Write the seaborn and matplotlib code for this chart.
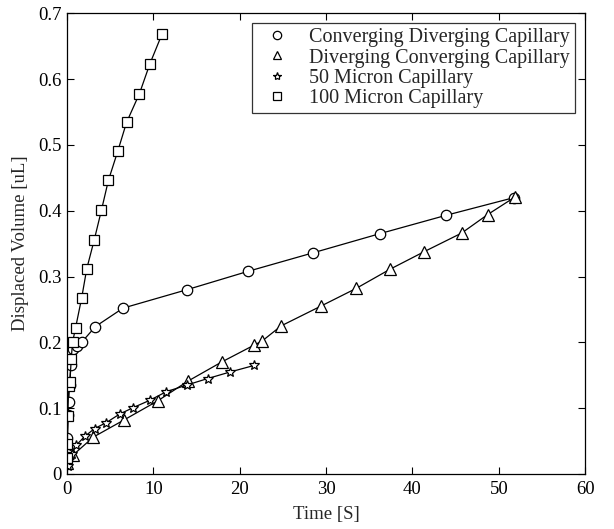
import matplotlib
matplotlib.use('Agg')
import matplotlib.pyplot as plt
from matplotlib.lines import Line2D
from matplotlib.ticker import FormatStrFormatter
import pandas as pd
import seaborn as sns

# Valores
series_names = ['Converging Diverging Capillary', 'Diverging Converging Capillary',
                '50 Micron Capillary', '100 Micron Capillary']

cd_time = [0.0, 0.05, 0.15, 0.2, 0.3, 0.45, 0.7, 1.2, 1.7, 3.3, 6.5, 13.9, 21.0, 28.5, 36.2, 43.9, 51.8]
cd_vol = [0.03, 0.055, 0.09, 0.11, 0.135, 0.165, 0.19, 0.195, 0.2, 0.224, 0.252, 0.28, 0.308, 0.336, 0.365, 0.393, 0.42]

dc_time = [0.0, 0.73, 3.05, 6.6, 10.5, 14.0, 17.9, 21.7, 22.6, 24.8, 29.4, 33.5, 37.4, 41.4, 45.7, 48.7, 51.9]
dc_vol = [0.017, 0.029, 0.056, 0.082, 0.111, 0.141, 0.17, 0.196, 0.202, 0.225, 0.255, 0.282, 0.311, 0.338, 0.366, 0.394, 0.421]

m50_time = [0.1, 0.2, 0.54, 1.1, 2.05, 3.2, 4.55, 6.1, 7.7, 9.6, 11.5, 13.85, 16.3, 18.9, 21.7]
m50_vol = [0.012, 0.021, 0.031, 0.044, 0.057, 0.069, 0.078, 0.091, 0.101, 0.112, 0.125, 0.135, 0.145, 0.155, 0.165]

m100_time = [0.0, 0.05, 0.1, 0.2, 0.35, 0.5, 0.65, 1.0, 1.7, 2.3, 3.15, 4.0, 4.8, 5.9, 6.9, 8.4, 9.6, 11.0]
m100_vol = [0.025, 0.045, 0.088, 0.133, 0.14, 0.175, 0.2, 0.222, 0.267, 0.312, 0.355, 0.401, 0.446, 0.491, 0.534, 0.578, 0.623, 0.668]

x_ticks = [0, 10, 20, 30, 40, 50, 60]
y_ticks = [0, 0.1, 0.2, 0.3, 0.4, 0.5, 0.6, 0.7]

frames = []
for name, t, v in zip(series_names,
                      [cd_time, dc_time, m50_time, m100_time],
                      [cd_vol, dc_vol, m50_vol, m100_vol]):
    frames.append(pd.DataFrame({'Time': t, 'Volume': v, 'Serie': name}))
df = pd.concat(frames, ignore_index=True)

sns.set_style('ticks')
plt.rcParams['font.family'] = ['Liberation Serif', 'DejaVu Serif']

marcadores = {series_names[0]: 'o', series_names[1]: '^', series_names[2]: '*', series_names[3]: 's'}
tamanhos = {series_names[0]: 7.5, series_names[1]: 8, series_names[2]: 7.5, series_names[3]: 7.5}

fig = plt.figure(figsize=(6.14, 5.29), dpi=100)
ax = fig.add_axes([0.109, 0.104, 0.844, 0.871])

for name in series_names:
    sub = df[df['Serie'] == name]
    sns.lineplot(data=sub, x='Time', y='Volume', ax=ax, sort=False, estimator=None,
                 color='black', linewidth=0.9, marker=marcadores[name],
                 markersize=tamanhos[name], markerfacecolor='white',
                 markeredgecolor='black', markeredgewidth=0.9, legend=False)

ax.set_xlim(0, 60)
ax.set_ylim(0, 0.7)
ax.set_xticks(x_ticks)
ax.set_yticks(y_ticks)
ax.yaxis.set_major_formatter(FormatStrFormatter('%g'))
ax.tick_params(direction='in', top=True, right=True, length=5, width=0.8,
               labelsize=13.5, colors='black')
ax.tick_params(axis='x', pad=5)
for s in ax.spines.values():
    s.set_linewidth(0.9)
    s.set_color('black')
ax.set_xlabel('Time [S]', fontsize=13.5, labelpad=6)
ax.set_ylabel('Displaced Volume [uL]', fontsize=13.5, labelpad=7)

handles = [Line2D([], [], linestyle='none', marker=marcadores[n], markersize=6,
                  markerfacecolor='white', markeredgecolor='black', markeredgewidth=0.9)
           for n in series_names]
leg = ax.legend(handles, series_names, loc='upper right', fontsize=14.5, frameon=True,
                fancybox=False, edgecolor='black', handlelength=2.0, handletextpad=0.6,
                labelspacing=0.05, borderpad=0.25, borderaxespad=0.5)
leg.get_frame().set_linewidth(0.9)

fig.savefig('out.png', dpi=100)
